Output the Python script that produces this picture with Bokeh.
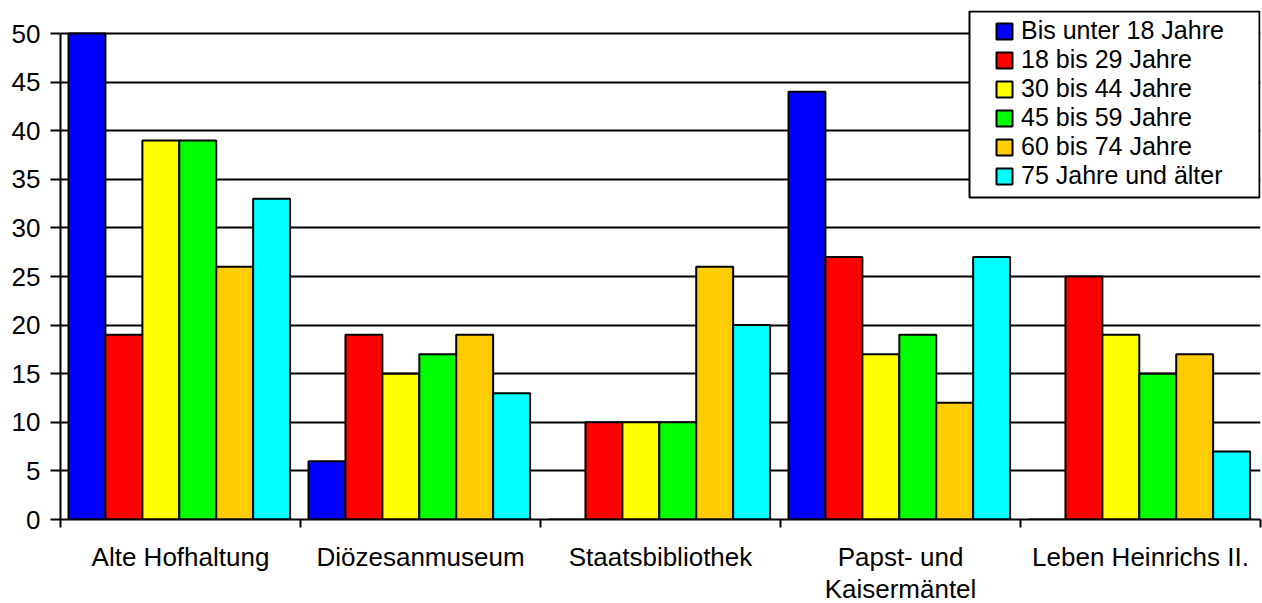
from bokeh.plotting import figure
from bokeh.models import (ColumnDataSource, FixedTicker, Legend, LegendItem,
                          BoxAnnotation, Range1d)
from bokeh.transform import dodge
from bokeh.embed import file_html
from bokeh.resources import INLINE

categories = ["Alte Hofhaltung", "Diözesanmuseum", "Staatsbibliothek",
              "Papst- und\nKaisermäntel", "Leben Heinrichs II."]
series_names = ["Bis unter 18 Jahre", "18 bis 29 Jahre", "30 bis 44 Jahre",
                "45 bis 59 Jahre", "60 bis 74 Jahre", "75 Jahre und älter"]
bis_unter_18 = [50, 6, 0, 44, 0]
j18_29 = [19, 19, 10, 27, 25]
j30_44 = [39, 15, 10, 17, 19]
j45_59 = [39, 17, 10, 19, 15]
j60_74 = [26, 19, 26, 12, 17]
j75_plus = [33, 13, 20, 27, 7]
y_ticks = [0, 5, 10, 15, 20, 25, 30, 35, 40, 45, 50]

series_values = [bis_unter_18, j18_29, j30_44, j45_59, j60_74, j75_plus]
colors = ["#0000FF", "#FF0000", "#FFFF00", "#00FF00", "#FFCC00", "#00FFFF"]

FONT = "Liberation Sans"
FS = "26px"
LEGEND_FS = "25px"

centers = [i + 0.5 for i in range(len(categories))]
boundaries = [float(i) for i in range(len(categories) + 1)]

data = {"x": centers}
keys = []
for i, vals in enumerate(series_values):
    k = f"s{i}"
    keys.append(k)
    data[k] = vals
source = ColumnDataSource(data)

# frame 1200 x 509 px; 50 units = 486 px, extra headroom for the legend
y_top = 50 * 509 / 486
p = figure(frame_width=1200, frame_height=509, output_backend="svg",
           toolbar_location=None,
           x_range=Range1d(0, len(categories)), y_range=Range1d(0, y_top),
           min_border_left=60, min_border_right=2, min_border_top=10,
           min_border_bottom=84)
p.outline_line_color = None
p.background_fill_color = "white"
p.border_fill_color = "white"

n = len(series_values)
bw = 1.0 / (n + 0.5)
renderers = []
for i, k in enumerate(keys):
    off = (i - (n - 1) / 2) * bw - 0.005
    r = p.vbar(x=dodge("x", off, range=p.x_range), top=k, bottom=0, width=bw,
               source=source, fill_color=colors[i], line_color="black",
               line_width=2)
    renderers.append(r)

# x axis
p.xgrid.visible = False
xa = p.xaxis[0]
xa.ticker = FixedTicker(ticks=centers, minor_ticks=boundaries)
xa.major_label_overrides = {c: lab for c, lab in zip(centers, categories)}
xa.major_tick_out = 0
xa.major_tick_in = 0
xa.minor_tick_out = 8
xa.minor_tick_in = 0
xa.minor_tick_line_width = 2
xa.minor_tick_line_color = "black"
xa.axis_line_width = 2
xa.axis_line_color = "black"
xa.major_label_text_font = FONT
xa.major_label_text_font_size = FS
xa.major_label_text_color = "black"
xa.major_label_text_line_height = 1.086
xa.major_label_standoff = 14

# y axis
ya = p.yaxis[0]
ya.bounds = (0, 50)
ya.ticker = FixedTicker(ticks=y_ticks, minor_ticks=[])
ya.major_tick_out = 10
ya.major_tick_in = 0
ya.major_tick_line_width = 2
ya.major_tick_line_color = "black"
ya.axis_line_width = 2
ya.axis_line_color = "black"
ya.major_label_text_font = FONT
ya.major_label_text_font_size = FS
ya.major_label_text_color = "black"
ya.major_label_standoff = 10

p.ygrid.ticker = FixedTicker(ticks=y_ticks)
p.ygrid.grid_line_color = "black"
p.ygrid.grid_line_width = 2

# legend frame (screen px, relative to the plot frame's bottom-left)
box = BoxAnnotation(left=909, right=1199, top=508, bottom=322,
                    left_units="screen", right_units="screen",
                    top_units="screen", bottom_units="screen",
                    fill_color="white", fill_alpha=1.0,
                    line_color="black", line_width=2, line_alpha=1.0)
p.add_layout(box)

legend = Legend(items=[LegendItem(label=nm, renderers=[r])
                       for nm, r in zip(series_names, renderers)],
                location=(934, 329), padding=0, margin=0, spacing=0,
                glyph_width=20, glyph_height=20, label_height=20,
                label_standoff=7, label_text_font=FONT,
                label_text_font_size=LEGEND_FS, label_text_color="black",
                border_line_alpha=0, background_fill_alpha=0)
p.add_layout(legend)

open("out.html", "w").write(file_html(p, INLINE))
